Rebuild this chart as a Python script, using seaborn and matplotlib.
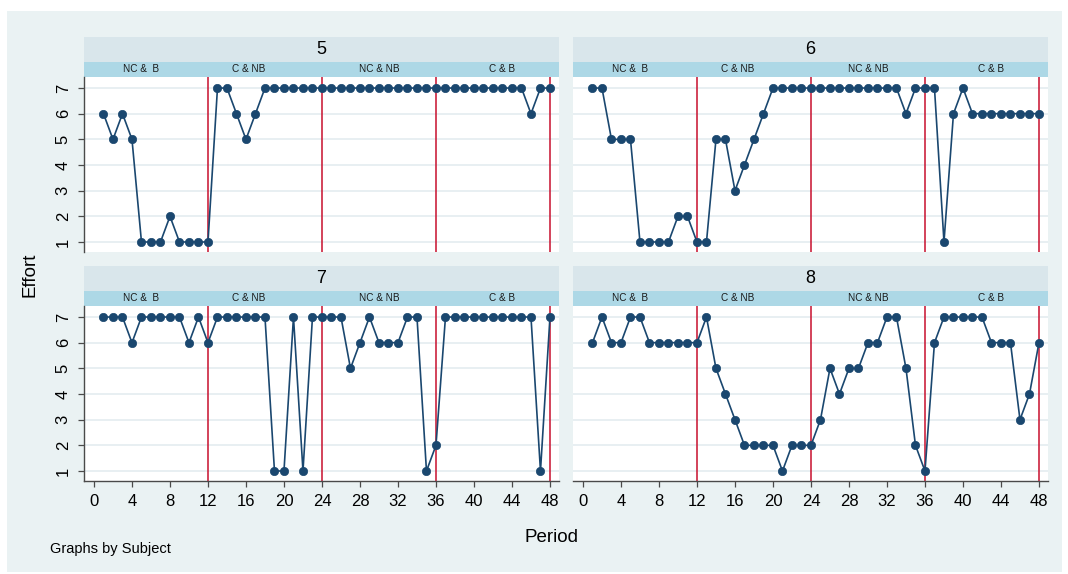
import matplotlib
matplotlib.use("Agg")
import matplotlib.pyplot as plt
import seaborn as sns
import pandas as pd
from matplotlib.patches import Rectangle

# ---------------- data ----------------
subjects = [5, 6, 7, 8]
periods = list(range(1, 49))
effort_5 = [6, 5, 6, 5, 1, 1, 1, 2, 1, 1, 1, 1,
            7, 7, 6, 5, 6, 7, 7, 7, 7, 7, 7, 7,
            7, 7, 7, 7, 7, 7, 7, 7, 7, 7, 7, 7,
            7, 7, 7, 7, 7, 7, 7, 7, 7, 6, 7, 7]
effort_6 = [7, 7, 5, 5, 5, 1, 1, 1, 1, 2, 2, 1,
            1, 5, 5, 3, 4, 5, 6, 7, 7, 7, 7, 7,
            7, 7, 7, 7, 7, 7, 7, 7, 7, 6, 7, 7,
            7, 1, 6, 7, 6, 6, 6, 6, 6, 6, 6, 6]
effort_7 = [7, 7, 7, 6, 7, 7, 7, 7, 7, 6, 7, 6,
            7, 7, 7, 7, 7, 7, 1, 1, 7, 1, 7, 7,
            7, 7, 5, 6, 7, 6, 6, 6, 7, 7, 1, 2,
            7, 7, 7, 7, 7, 7, 7, 7, 7, 7, 1, 7]
effort_8 = [6, 7, 6, 6, 7, 7, 6, 6, 6, 6, 6, 6,
            7, 5, 4, 3, 2, 2, 2, 2, 1, 2, 2, 2,
            3, 5, 4, 5, 5, 6, 6, 7, 7, 5, 2, 1,
            6, 7, 7, 7, 7, 7, 6, 6, 6, 3, 4, 6]
phase_breaks = [12, 24, 36, 48]
phase_labels = ["NC &  B", "C & NB", "NC & NB", "C & B"]
x_ticks = list(range(0, 49, 4))
y_ticks = [1, 2, 3, 4, 5, 6, 7]

efforts = {5: effort_5, 6: effort_6, 7: effort_7, 8: effort_8}
df = pd.concat([pd.DataFrame({"Subject": s, "Period": periods, "Effort": efforts[s]})
                for s in subjects], ignore_index=True)

# ---------------- style ----------------
sns.set_style("white")
plt.rcParams["font.family"] = ["Liberation Sans", "DejaVu Sans"]
plt.rcParams["text.color"] = "black"
plt.rcParams["xtick.labelcolor"] = "black"
plt.rcParams["ytick.labelcolor"] = "black"

BG = "#EAF2F3"
HEAD = "#D9E6EB"
SUB = "#ADD8E6"
NAVY = "#1A476F"
RED = "#C8102E"
GRID = "#E4ECF0"
AX = "#4A4A4A"

W, H = 1068, 574
fig = plt.figure(figsize=(W / 100, H / 100), dpi=100)
fig.patch.set_facecolor("white")
fig.patches.append(Rectangle((7 / W, 1 - 572 / H), (1062 - 7) / W, (572 - 11) / H,
                             transform=fig.transFigure, facecolor=BG, edgecolor="none",
                             zorder=-10))

def box(x0, y0, x1, y1):
    return [x0 / W, 1 - y1 / H, (x1 - x0) / W, (y1 - y0) / H]

cols = [(84, 559), (573, 1048)]
rows = [(37, 62, 77, 252), (266, 291, 306, 481)]

for i, s in enumerate(subjects):
    r, c = divmod(i, 2)
    x0, x1 = cols[c]
    hy0, sy0, py0, py1 = rows[r]

    # header strip
    hax = fig.add_axes(box(x0, hy0, x1, sy0))
    hax.set_facecolor(HEAD)
    hax.set_xticks([]); hax.set_yticks([])
    for sp in hax.spines.values():
        sp.set_visible(False)
    hax.text(0.5, 0.5, str(s), ha="center", va="center", fontsize=13, color="black",
             transform=hax.transAxes)

    # sub strip
    sax = fig.add_axes(box(x0, sy0, x1, py0))
    sax.set_facecolor(SUB)
    sax.set_xticks([]); sax.set_yticks([])
    for sp in sax.spines.values():
        sp.set_visible(False)
    for fx, lab in zip([0.12, 0.347, 0.621, 0.88], phase_labels):
        sax.text(fx, 0.5, lab, ha="center", va="center", fontsize=7.2, color="#1a1a1a",
                 transform=sax.transAxes)

    # plot
    ax = fig.add_axes(box(x0, py0, x1, py1))
    ax.set_facecolor("white")
    sub = df[df["Subject"] == s]
    for yv in y_ticks:
        ax.axhline(yv, color=GRID, lw=1.2, zorder=0)
    for xb in phase_breaks:
        ax.axvline(xb, color=RED, lw=1.1, zorder=1)
    sns.lineplot(data=sub, x="Period", y="Effort", ax=ax, color=NAVY, linewidth=1.2,
                 marker="o", markersize=6, markeredgecolor=NAVY, markeredgewidth=0.5,
                 zorder=3, legend=False)
    ax.set_xlim(-1.05, 48.95)
    ax.set_ylim(0.61, 7.43)
    ax.set_xlabel("")
    ax.set_ylabel("")
    for sp in ax.spines.values():
        sp.set_visible(False)
    if c == 0:
        ax.spines["left"].set_visible(True)
        ax.spines["left"].set_color(AX)
        ax.spines["left"].set_linewidth(1.0)
        ax.set_yticks(y_ticks)
        ax.set_yticklabels([str(v) for v in y_ticks], rotation=90, va="center")
        ax.tick_params(axis="y", left=True, length=4.5, width=0.9, color=AX, pad=5,
                       labelsize=12, labelcolor="black")
    else:
        ax.set_yticks([])
    if r == 1:
        ax.spines["bottom"].set_visible(True)
        ax.spines["bottom"].set_color(AX)
        ax.spines["bottom"].set_linewidth(1.0)
        ax.set_xticks(x_ticks)
        ax.tick_params(axis="x", bottom=True, length=4.5, width=0.9, color=AX, pad=5,
                       labelsize=12, labelcolor="black")
    else:
        ax.set_xticks([])

fig.text(30 / W, 1 - 275 / H, "Effort", rotation=90, ha="center", va="center",
         fontsize=13.5, color="black")
fig.text(551 / W, 1 - 538 / H, "Period", ha="center", va="center", fontsize=13.5,
         color="black")
fig.text(50 / W, 1 - 549 / H, "Graphs by Subject", ha="left", va="center", fontsize=10.5,
         color="black")

fig.savefig("out.png", dpi=100, facecolor=fig.get_facecolor())
